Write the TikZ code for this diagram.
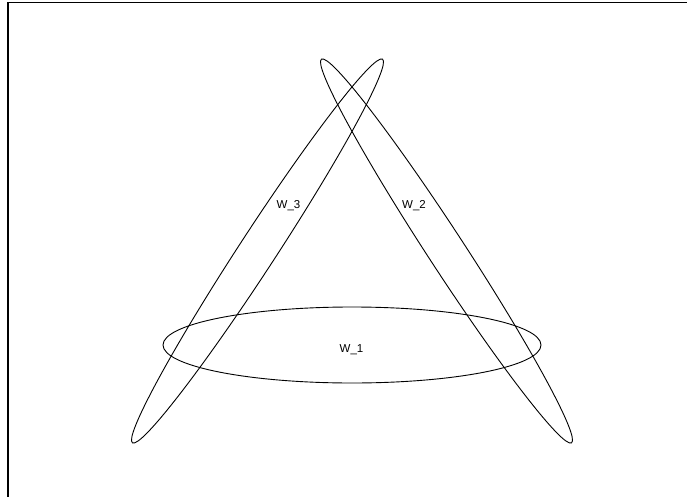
\documentclass[tikz,border=0pt]{standalone}
\usepackage{fontspec}
\setmainfont{Liberation Sans}
\begin{document}
\begin{tikzpicture}[x=1pt,y=-1pt,
  loop/.style={draw=black, line width=0.9pt},
  frameline/.style={draw=black, line width=1.7pt},
  lbl/.style={font=\fontsize{11.5}{13}\selectfont, inner sep=0pt, anchor=base}]
\useasboundingbox (0,0) rectangle (687,497);
% frame (top and left only)
\coordinate (fa) at (8,2.5);
\coordinate (fb) at (688,2.5);
\coordinate (fc) at (8,498);
\draw[frameline] (fb) -- (fa) -- (fc);
% ellipses
\coordinate (c1) at (352,345);
\coordinate (c2) at (446.5,251);
\coordinate (c3) at (257.5,251);
\draw[loop] (c1) ellipse [x radius=189pt, y radius=38pt];
\draw[loop] (c3) ellipse [x radius=229pt, y radius=18.5pt, rotate=56.9];
\draw[loop] (c2) ellipse [x radius=229pt, y radius=18.5pt, rotate=-56.9];
% labels
\node[lbl] (w1) at (351.5,352.5) {W\_1};
\node[lbl] (w2) at (414,208.3) {W\_2};
\node[lbl] (w3) at (288.5,208.3) {W\_3};
\end{tikzpicture}
\end{document}
